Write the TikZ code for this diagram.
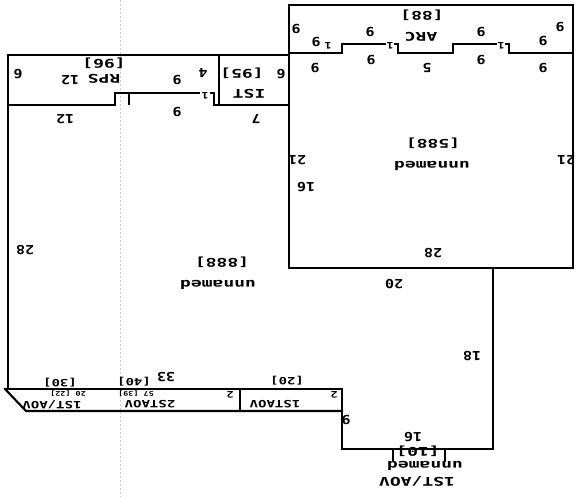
\documentclass[tikz,border=0pt]{standalone}
\usepackage{fontspec}
\newfontfamily\planfont{DejaVu Sans Mono}
\begin{document}
\begin{tikzpicture}[x=1pt,y=-1pt,
  wall/.style={line width=2.1pt,line cap=rect},
  thinw/.style={line width=1.3pt},
  lab/.style={rotate=180,inner sep=0pt,font=\planfont\bfseries\fontsize{12.5}{12.5}\selectfont,xscale=1.2},
  nm/.style={rotate=180,inner sep=0pt,font=\planfont\bfseries\fontsize{12}{12}\selectfont,xscale=1.5},
  nms/.style={rotate=180,inner sep=0pt,font=\planfont\bfseries\fontsize{10}{10}\selectfont,xscale=1.4},
  sm/.style={rotate=180,inner sep=0pt,font=\planfont\bfseries\fontsize{9}{9}\selectfont,xscale=1.3},
  tiny/.style={rotate=180,inner sep=0pt,font=\planfont\bfseries\fontsize{6.5}{6.5}\selectfont,xscale=1.3},
  scan/.style={gray!40,line width=0.5pt,dash pattern=on 2pt off 2pt}]
\useasboundingbox (0,0) rectangle (579,497);
\fill[white] (0,0) rectangle (579,497);
% faint scan fold line
\draw[scan] (120,0) -- (120,497);
% ---- right room with top strip
\draw[wall] (289,5) rectangle (573,268);
\draw[wall] (289,53) -- (342,53);
\draw[thinw] (342,53) -- (342,44) -- (386,44);
\draw[thinw] (394,44) -- (398,44) -- (398,53);
\draw[wall] (398,53) -- (453,53);
\draw[thinw] (453,53) -- (453,44) -- (497,44);
\draw[thinw] (505,44) -- (509,44) -- (509,53);
\draw[wall] (509,53) -- (573,53);
% ---- left strip
\draw[wall] (8,55) -- (289,55);
\draw[wall] (8,105) -- (115,105);
\draw[thinw] (115,105) -- (115,93) -- (129,93) -- (129,105);
\draw[thinw] (129,93) -- (200,93);
\draw[thinw] (210,93) -- (214,93) -- (214,105);
\draw[wall] (219,55) -- (219,105);
\draw[wall] (214,105) -- (289,105);
% ---- left room
\draw[wall] (8,55) -- (8,389);
\draw[wall] (5,389) -- (342,389);
% ---- bottom strip
\draw[wall] (5,389) -- (26,411) -- (342,411);
\draw[thinw] (240,389) -- (240,411);
\draw[wall] (342,389) -- (342,449) -- (493,449) -- (493,268);
% small box
\draw[thinw] (393,449) -- (393,462);
\draw[thinw] (445,449) -- (445,462);
% ---- labels: top strip
\node[lab] (t1) at (296,29) {9};
\node[lab] (t2) at (316,42) {9};
\node[lab] (t3) at (370,32) {9};
\node[lab] (t4) at (371,60) {9};
\node[lab] (t5) at (481,32) {9};
\node[lab] (t6) at (481,60) {9};
\node[lab] (t7) at (543,41) {9};
\node[lab] (t8) at (560,27) {9};
\node[lab] (t9) at (315,68) {9};
\node[lab] (t10) at (427,68) {5};
\node[lab] (t11) at (543,68) {9};
\node[sm] (d1) at (328,46) {1};
\node[sm] (d2) at (390,46) {1};
\node[sm] (d3) at (501,46) {1};
\node[nm] (arcA) at (422,15) {[88]};
\node[nm] (arcN) at (421,37) {ARC};
% ---- labels: left strip
\node[lab] (l1) at (18,74) {6};
\node[nm] (rpsA) at (104,63) {[96]};
\node[nm] (rpsN) at (104,79) {RPS};
\node[lab] (l2) at (70,80) {12};
\node[lab] (l3) at (177,80) {9};
\node[lab] (l4) at (177,112) {9};
\node[sm] (l5) at (205,96) {1};
\node[lab] (l6) at (203,73) {4};
\node[nm] (istA) at (242,73) {[95]};
\node[nm] (istN) at (249,94) {IST};
\node[lab] (l7) at (281,74) {6};
\node[lab] (l8) at (65,119) {12};
\node[lab] (l9) at (256,119) {7};
% ---- right room labels
\node[nm] (rrA) at (433,143) {[588]};
\node[nm] (rrN) at (432,166) {unnamed};
\node[lab] (r1) at (297,160) {21};
\node[lab] (r2) at (566,160) {21};
\node[lab] (r3) at (433,253) {28};
% ---- left room labels
\node[nm] (lrA) at (222,262) {[888]};
\node[nm] (lrN) at (218,285) {unnamed};
\node[lab] (m1) at (306,187) {16};
\node[lab] (m2) at (25,250) {28};
\node[lab] (m3) at (394,284) {20};
\node[lab] (m4) at (472,356) {18};
\node[lab] (m5) at (166,377) {33};
\node[lab] (m6) at (346,420) {9};
\node[lab] (m7) at (413,437) {16};
% ---- small box labels
\node[nm] (sbA) at (418,451) {[10]};
\node[nm] (sbN) at (425,466) {unnamed};
\node[nm] (sbT) at (417,481) {1ST/AOV};
% ---- bottom strip labels
\node[nms] (bA1) at (60,383) {[30]};
\node[nms] (bA2) at (134,382) {[40]};
\node[nms] (bA3) at (287,381) {[20]};
\node[tiny] (bB1) at (68,393.5) {20 [22]};
\node[tiny] (bB2) at (136,393.5) {57 [39]};
\node[nms] (bT1) at (52,404.5) {1ST/AOV};
\node[nms] (bT2) at (150,404.5) {2STAOV};
\node[nms] (bT3) at (275,404) {1STAOV};
\node[sm] (b1) at (230,395) {2};
\node[sm] (b2) at (334,395) {2};
\end{tikzpicture}
\end{document}
